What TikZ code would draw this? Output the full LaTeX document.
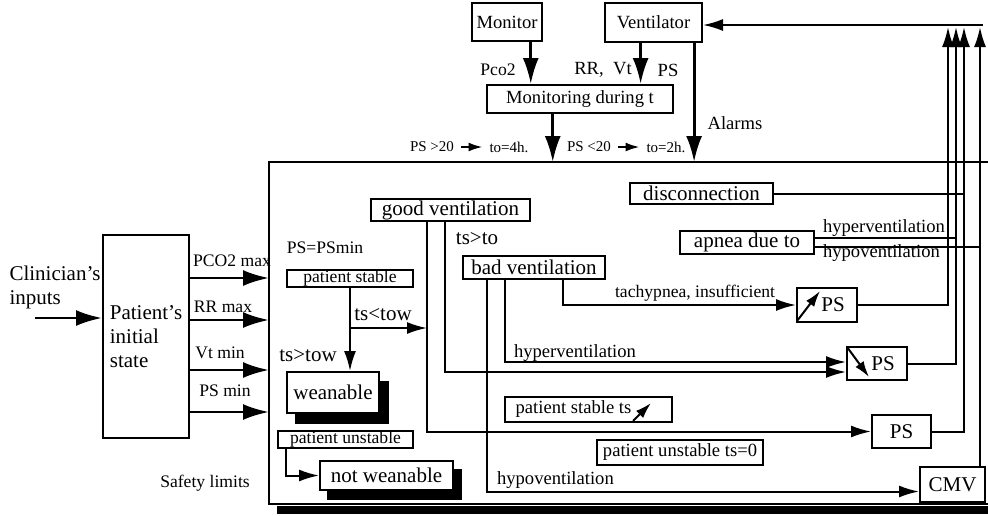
\documentclass[tikz,border=0pt]{standalone}
\usepackage{fontspec}
\setmainfont{Liberation Serif}
\usetikzlibrary{arrows.meta,calc,positioning}
\pgfdeclarelayer{background}
\pgfsetlayers{background,main}
\newcommand\fbig{\fontsize{10.5}{12}\selectfont}
\newcommand\fmid{\fontsize{9.3}{11}\selectfont}
\newcommand\fsml{\fontsize{8.8}{10}\selectfont}
\newcommand\ftiny{\fontsize{7.5}{9}\selectfont}
\tikzset{
  box/.style={draw,line width=1pt,inner sep=0pt,fill=white},
  ln/.style={line width=1pt},
  arr/.style={line width=1pt,-{Latex[length=10pt,width=6pt]}},
  barr/.style={line width=1.4pt,-{Latex[length=13pt,width=8pt]}},
  darr/.style={line width=1pt,-{Latex[length=8pt,width=5pt]}},
  sarr/.style={line width=1pt,-{Latex[length=7pt,width=4.5pt]}},
}
\begin{document}
\begin{tikzpicture}[x=0.5pt,y=-0.5pt]
\useasboundingbox (0,0) rectangle (988,515);
% monitoring
\node[box,font=\fmid,minimum width=35pt,minimum height=19pt] (mon) at (507,22) {Monitor};
\node[box,font=\fmid,minimum width=48.5pt,minimum height=19.5pt] (vent) at (653.5,22.5) {Ventilator};
\node[box,font=\fmid,minimum width=93pt,minimum height=14pt] (mdt) at (580,99) {Monitoring during t};
\coordinate (m1) at ($(mon.south west)!0.83!(mon.south east)$);
\coordinate (v1) at ($(vent.south west)!0.37!(vent.south east)$);
\coordinate (v2) at ($(vent.south west)!0.91!(vent.south east)$);
\coordinate (m2) at ($(mdt.south west)!0.355!(mdt.south east)$);
\draw[barr] (m1) -- (m1 |- mdt.north);
\draw[barr] (v1) -- (v1 |- mdt.north);
\node[font=\fsml] (pco) at (498,70) {Pco2};
\node[font=\fmid] (rrvt) at (603,70) {RR,\ \ Vt};
\node[font=\fmid] (psv) at (668,70) {PS};
% frame
\coordinate (fnw) at (269,162);
\coordinate (fsw) at (269,504);
\draw[ln] (988,162) -- (fnw) -- (fsw) -- (988,504);
\fill (277,506) rectangle (988,514);
\draw[barr] (m2) -- (m2 |- fnw);
\draw[barr] (v2) -- (v2 |- fnw);
\node[font=\fmid] (alm) at (735,123) {Alarms};
\node[font=\ftiny] (g20) at (432,147) {PS >20};
\node[font=\ftiny] (t4) at (509,147) {to=4h.};
\draw[sarr] (g20) -- (t4);
\node[font=\ftiny] (l20) at (589,147) {PS <20};
\node[font=\ftiny] (t2) at (666,147) {to=2h.};
\draw[sarr] (l20) -- (t2);
% inputs
\node[font=\fbig,align=left] (clin) at (55,287) {Clinician's\\inputs};
\node[box,font=\fbig,align=left,minimum width=43pt,minimum height=101.5pt] (init) at (146,336.5) {Patient's\\initial\\state};
\coordinate (cin) at (35,318);
\draw[barr] (cin) -- (cin -| init.west);
% safety limits
\coordinate (l1) at (0,278);
\coordinate (l2) at (0,320);
\coordinate (l3) at (0,370);
\coordinate (l4) at (0,412);
\draw[barr] (init.east |- l1) -- (fnw |- l1);
\draw[barr] (init.east |- l2) -- (fnw |- l2);
\draw[barr] (init.east |- l3) -- (fnw |- l3);
\draw[barr] (init.east |- l4) -- (fnw |- l4);
\node[font=\fsml] (lpco) at (232,261) {PCO2 max};
\node[font=\fsml] (lrr) at (223,307) {RR max};
\node[font=\fsml] (lvt) at (220,353) {Vt min};
\node[font=\fsml] (lps) at (225,391) {PS min};
\node[font=\fsml] (sfl) at (205,483) {Safety limits};
% weaning
\node[font=\fsml] (psmin) at (325,248) {PS=PSmin};
\node[box,font=\fsml,minimum width=63pt,minimum height=8.5pt] (pst) at (350,278.5) {patient stable};
\node[box,font=\fbig,minimum width=46pt,minimum height=20.5pt] (wean) at (333,392.5) {weanable};
\node[box,font=\fsml,minimum width=67.5pt,minimum height=8.5pt] (pun) at (345.5,439.5) {patient unstable};
\node[box,font=\fbig,minimum width=66.5pt,minimum height=14.5pt] (nw) at (386.5,475.5) {not weanable};
\node[font=\fbig] (tstow) at (383,315) {ts<tow};
\node[font=\fbig] (tsgtow) at (308,356) {ts>tow};
\begin{pgfonlayer}{background}
\fill ($(wean.north west)+(9,10)$) rectangle ($(wean.south east)+(9,10)$);
\fill ($(nw.north west)+(8,9)$) rectangle ($(nw.south east)+(8,9)$);
\end{pgfonlayer}
% ventilation
\node[box,font=\fbig,minimum width=79.5pt,minimum height=11pt] (gv) at (450.5,210) {good ventilation};
\node[font=\fbig] (tsto) at (477,239) {ts>to};
\node[box,font=\fbig,minimum width=71pt,minimum height=11.5pt] (bv) at (534,267.5) {bad ventilation};
\node[box,font=\fbig,minimum width=71.5pt,minimum height=10.5pt] (disc) at (701.5,193.5) {disconnection};
\node[box,font=\fbig,minimum width=67pt,minimum height=11.5pt] (apn) at (747,242.5) {apnea due to};
\node[box,font=\fmid,minimum width=83.5pt,minimum height=12.5pt] (pstt) at (588.5,409.5) {patient stable ts\kern15pt};
\node[box,font=\fmid,minimum width=83pt,minimum height=12.5pt] (pun0) at (680,452.5) {patient unstable ts=0};
% actions
\node[box,font=\fbig,minimum width=30pt,minimum height=17pt] (psup) at (827,305) {\hspace{6pt}PS};
\node[box,font=\fbig,minimum width=30pt,minimum height=16.5pt] (psdn) at (877,363.5) {\hspace{6pt}PS};
\node[box,font=\fbig,minimum width=29.5pt,minimum height=16.5pt] (ps) at (901.5,431.5) {PS};
\node[box,font=\fbig,minimum width=32.5pt,minimum height=17.5pt] (cmv) at (952.5,484.5) {CMV};
\draw[darr] ($(psup.south west)+(1,-2)$) -- ($(psup.south west)+(24,-32)$);
\draw[darr] ($(psdn.north west)+(1,1)$) -- ($(psdn.north west)+(23,31)$);
\draw[darr] ($(pstt.south east)+(-40,-2)$) -- ($(pstt.south east)+(-22,-20)$);
% branches
\coordinate (br) at (0,328);
\draw[arr] (pst.south) -- (pst.south |- wean.north);
\coordinate (gva) at ($(gv.south west)+(57,0)$);
\coordinate (gvb) at ($(gv.south west)+(75,0)$);
\draw[arr] (pst.south |- br) -- (gva |- br);
\draw[arr] ($(pun.south west)+(9,0)$) |- (nw.west);
\draw[arr] (gva) |- (ps.west);
\draw[arr] (gvb) |- ($(psdn.west)+(0,8.5)$);
\coordinate (bva) at ($(bv.south west)+(25,0)$);
\coordinate (bvb) at ($(bv.south west)+(43,0)$);
\coordinate (bvc) at ($(bv.south west)+(101,0)$);
\draw[arr] (bvc) |- (psup.west);
\draw[arr] (bvb) |- ($(psdn.west)+(0,-1.5)$);
\draw[arr] (bva) |- ($(cmv.west)+(0,7)$);
\node[font=\fsml,anchor=west] (tach) at (608,293) {tachypnea, insufficient};
\node[font=\fmid,anchor=west] (hyb) at (507,353) {hyperventilation};
\node[font=\fmid,anchor=west] (hob) at (490,480) {hypoventilation};
\node[font=\fmid,anchor=west] (hya) at (816,228) {hyperventilation};
\node[font=\fmid,anchor=west] (hoa) at (816,253) {hypoventilation};
% back to ventilator
\coordinate (b1) at (948,27);
\coordinate (b2) at (956,27);
\coordinate (b3) at (964,27);
\coordinate (b4) at (980,27);
\draw[arr] (psup.east) -| (b1);
\draw[arr] (psdn.east) -| (b2);
\draw[arr] (ps.east) -| (b3);
\draw[arr] (cmv.north -| b4) -- (b4);
\draw[ln] (disc.east) -- (disc.east -| b3);
\coordinate (ah) at ($(apn.east)+(0,-4.5)$);
\coordinate (ao) at ($(apn.east)+(0,4.5)$);
\draw[ln] (ah) -- (ah -| b2);
\draw[ln] (ao) -- (ao -| b4);
\coordinate (bt) at (983,25);
\draw[arr] (bt) -- (bt -| vent.east);
\end{tikzpicture}
\end{document}
